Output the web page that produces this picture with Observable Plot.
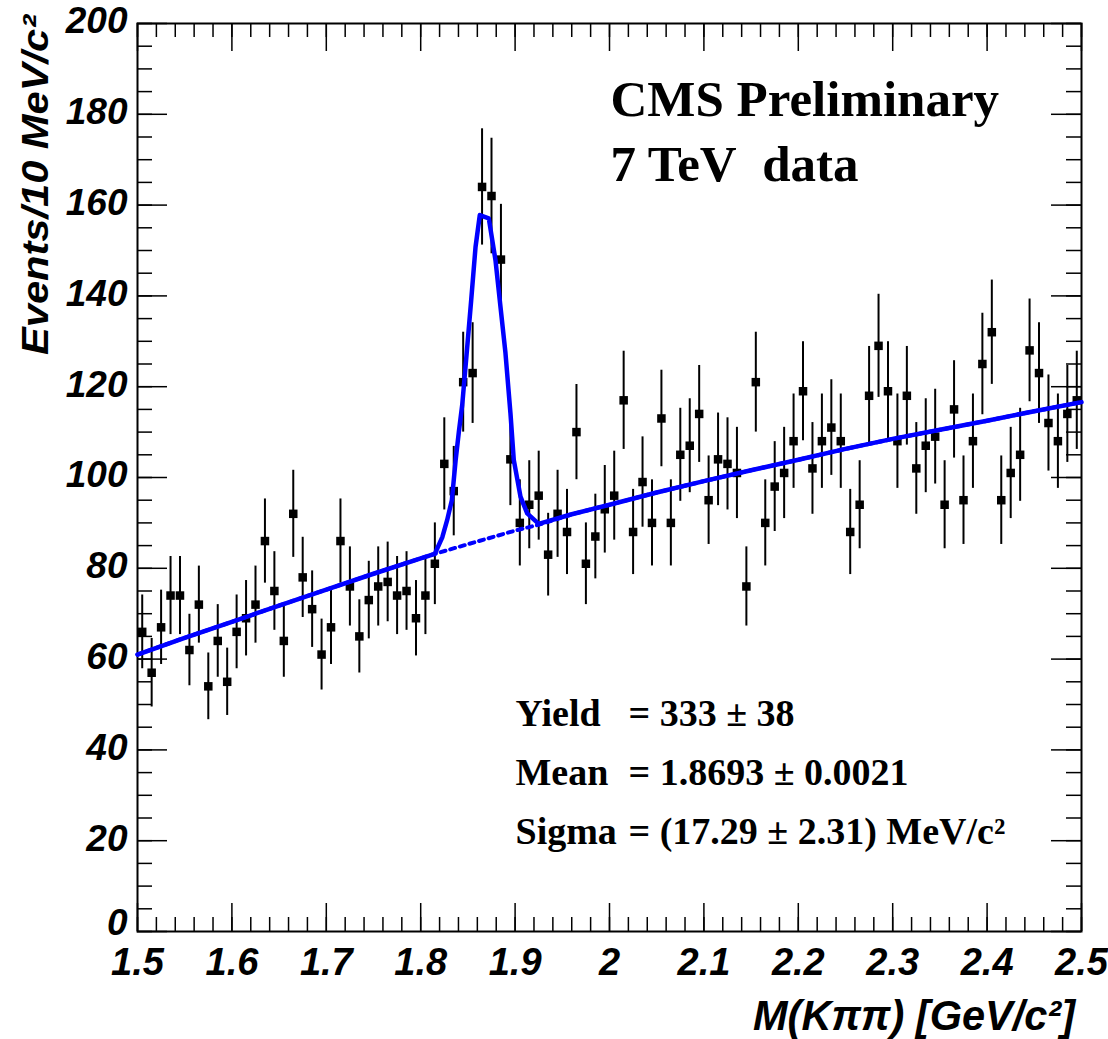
<!DOCTYPE html>
<html><head><meta charset="utf-8">
<script src="https://cdn.jsdelivr.net/npm/d3@7"></script>
<script src="https://cdn.jsdelivr.net/npm/@observablehq/plot@0.6"></script>
<style>
html,body{margin:0;padding:0;background:#fff;}
#chart svg{display:block;}
</style></head><body><div id="chart"></div>
<script>
// ---- data ----
const binCenters = [
1.505,1.515,1.525,1.535,1.545,1.555,1.565,1.575,1.585,1.595,
1.605,1.615,1.625,1.635,1.645,1.655,1.665,1.675,1.685,1.695,
1.705,1.715,1.725,1.735,1.745,1.755,1.765,1.775,1.785,1.795,
1.805,1.815,1.825,1.835,1.845,1.855,1.865,1.875,1.885,1.895,
1.905,1.915,1.925,1.935,1.945,1.955,1.965,1.975,1.985,1.995,
2.005,2.015,2.025,2.035,2.045,2.055,2.065,2.075,2.085,2.095,
2.105,2.115,2.125,2.135,2.145,2.155,2.165,2.175,2.185,2.195,
2.205,2.215,2.225,2.235,2.245,2.255,2.265,2.275,2.285,2.295,
2.305,2.315,2.325,2.335,2.345,2.355,2.365,2.375,2.385,2.395,
2.405,2.415,2.425,2.435,2.445,2.455,2.465,2.475,2.485,2.495];
const counts = [
66,57,67,74,74,62,72,54,64,55,
66,69,72,86,75,64,92,78,71,61,
67,86,76,65,73,76,77,74,75,69,
74,81,103,97,121,123,164,162,148,104,
90,94,96,83,92,88,110,81,87,93,
96,117,88,99,90,113,90,105,107,114,
95,104,103,101,76,121,90,98,101,108,
119,102,108,111,108,88,94,118,129,119,
108,118,102,107,109,94,115,95,108,125,
132,95,101,105,128,123,112,108,114,117];

const fitTotalX = [1.5,1.55,1.6,1.65,1.7,1.75,1.8,1.815,1.823,1.828,1.833,1.837,1.8404,1.844,1.8493,1.8535,1.8581,1.8626,1.8721,1.8792,1.8845,1.8898,1.8951,1.8986,1.9057,1.9128,1.925,1.96,2.0,2.05,2.1,2.15,2.2,2.25,2.3,2.35,2.4,2.45,2.5];
const fitTotalY = [61,64.7,68.2,71.8,75.3,78.8,82.2,83.2,86.9,90.6,95,103.8,110,116,128.8,139.1,150.8,157.8,157.1,147.9,137.6,127.4,114.1,103.9,95.8,92.1,89.8,91.9,94.0,96.7,99.2,101.6,103.9,106.3,108.5,110.5,112.5,114.6,116.6];
const fitBkgX = [1.5,1.55,1.6,1.65,1.7,1.75,1.8,1.815,1.86,1.9,1.925,1.96,2.0,2.05,2.1,2.15,2.2,2.25,2.3,2.35,2.4,2.45,2.5];
const fitBkgY = [61,64.7,68.2,71.8,75.3,78.8,82.2,83.2,85.9,88.3,89.6,91.9,94.0,96.7,99.2,101.6,103.9,106.3,108.5,110.5,112.5,114.6,116.6];

const xTickValues = [1.5,1.6,1.7,1.8,1.9,2.0,2.1,2.2,2.3,2.4,2.5];
const xTickLabels = ["1.5","1.6","1.7","1.8","1.9","2","2.1","2.2","2.3","2.4","2.5"];
const yTickValues = [0,20,40,60,80,100,120,140,160,180,200];
const yTickLabels = ["0","20","40","60","80","100","120","140","160","180","200"];

const titleLines = ["CMS Preliminary", "7 TeV\u00a0\u00a0data"];
const statLabels = ["Yield", "Mean", "Sigma"];
const statValues = ["= 333 \u00b1 38", "= 1.8693 \u00b1 0.0021", "= (17.29 \u00b1 2.31) MeV/c\u00b2"];
const xTitle = "M(K\u03c0\u03c0) [GeV/c\u00b2]";
const yTitle = "Events/10 MeV/c\u00b2";

// ---- layout ----
const W = 1108, H = 1039, mL = 137, mR = 27, mT = 23, mB = 108;
const innerW = W - mL - mR, innerH = H - mT - mB;
const data = binCenters.map((x, i) => ({x, n: counts[i]}));
const tot = fitTotalX.map((x, i) => ({x, y: fitTotalY[i]}));
const bkg = fitBkgX.map((x, i) => ({x, y: fitBkgY[i]}));
const serif = "'Liberation Serif', 'Times New Roman', serif";
const sans = "'Liberation Sans', Arial, sans-serif";

const xMajor = d3.ticks(1.5, 2.5, 10), xMinor = d3.ticks(1.5, 2.5, 50);
const yMajor = d3.ticks(0, 200, 10), yMinor = d3.ticks(0, 200, 40);

const statText = (s, i, dx) => Plot.text([s], {text: d => d, frameAnchor: "top-left", dx, dy: 702 + i * 59,
  textAnchor: "start", lineAnchor: "bottom", fontFamily: serif, fontWeight: "bold", fontSize: 38, fill: "black"});
const yAxisOpts = {tickSize: 0, tickPadding: 10, label: null,
  tickFormat: d => yTickLabels[yTickValues.indexOf(d)],
  fontSize: 37, fontWeight: "bold", fontStyle: "italic", fill: "black"};

const plot = Plot.plot({
  width: W, height: H,
  marginLeft: mL, marginRight: mR, marginTop: mT, marginBottom: mB,
  x: {domain: [1.5, 2.5]},
  y: {domain: [0, 200]},
  style: {fontFamily: sans, background: "white", overflow: "visible", color: "black"},
  marks: [
    // inward ticks on all four sides
    Plot.tickX(xMinor, {x: d => d, insetTop: innerH - 14, strokeWidth: 1.5}),
    Plot.tickX(xMajor, {x: d => d, insetTop: innerH - 28, strokeWidth: 1.5}),
    Plot.tickX(xMinor, {x: d => d, insetBottom: innerH - 14, strokeWidth: 1.5}),
    Plot.tickX(xMajor, {x: d => d, insetBottom: innerH - 28, strokeWidth: 1.5}),
    Plot.tickY(yMinor, {y: d => d, insetRight: innerW - 15, strokeWidth: 1.5}),
    Plot.tickY(yMajor, {y: d => d, insetRight: innerW - 30, strokeWidth: 1.5}),
    Plot.tickY(yMinor, {y: d => d, insetLeft: innerW - 15, strokeWidth: 1.5}),
    Plot.tickY(yMajor, {y: d => d, insetLeft: innerW - 30, strokeWidth: 1.5}),
    Plot.frame({strokeWidth: 2, stroke: "black"}),
    Plot.axisX(xTickValues, {tickSize: 0, tickPadding: 17, label: null,
      tickFormat: d => xTickLabels[xTickValues.indexOf(d)],
      fontSize: 38, fontWeight: "bold", fontStyle: "italic", fill: "black"}),
    Plot.axisY(yTickValues.slice(1), {...yAxisOpts, dy: -2}),
    Plot.axisY(yTickValues.slice(0, 1), {...yAxisOpts, dy: -8}),
    // data: error bars and square markers
    Plot.ruleX(data, {x: "x", y1: d => d.n - Math.sqrt(d.n), y2: d => d.n + Math.sqrt(d.n), stroke: "black", strokeWidth: 2}),
    Plot.dot(data, {x: "x", y: "n", symbol: "square", r: 4.8, fill: "black", stroke: "none"}),
    // fit: background (dotted) and total (solid)
    Plot.line(bkg, {x: "x", y: "y", stroke: "#0000ff", strokeWidth: 4, strokeDasharray: "5,5", curve: "linear"}),
    Plot.line(tot, {x: "x", y: "y", stroke: "#0000ff", strokeWidth: 4.5, curve: "linear"}),
    // annotations
    Plot.text([titleLines[0]], {text: d => d, frameAnchor: "top-left", dx: 473, dy: 92, textAnchor: "start", lineAnchor: "bottom",
      fontFamily: serif, fontWeight: "bold", fontSize: 51, fill: "black"}),
    Plot.text([titleLines[1]], {text: d => d, frameAnchor: "top-left", dx: 473, dy: 157, textAnchor: "start", lineAnchor: "bottom",
      fontFamily: serif, fontWeight: "bold", fontSize: 51, fill: "black"}),
    ...statLabels.map((s, i) => statText(s, i, 378)),
    ...statValues.map((s, i) => statText(s, i, 491))
  ]
});

const svg = d3.select(plot);
svg.append("text")
  .attr("transform", "translate(48,355) rotate(-90)")
  .attr("text-anchor", "start")
  .attr("font-family", sans).attr("font-size", 36).attr("font-weight", "bold").attr("font-style", "italic")
  .attr("textLength", 340).attr("lengthAdjust", "spacingAndGlyphs")
  .attr("fill", "black")
  .text(yTitle);
svg.append("text")
  .attr("x", 1075).attr("y", 1030)
  .attr("text-anchor", "end")
  .attr("font-family", sans).attr("font-size", 42).attr("font-weight", "bold").attr("font-style", "italic")
  .attr("textLength", 322).attr("lengthAdjust", "spacingAndGlyphs")
  .attr("fill", "black")
  .text(xTitle);

document.getElementById("chart").appendChild(plot);
</script></body></html>
